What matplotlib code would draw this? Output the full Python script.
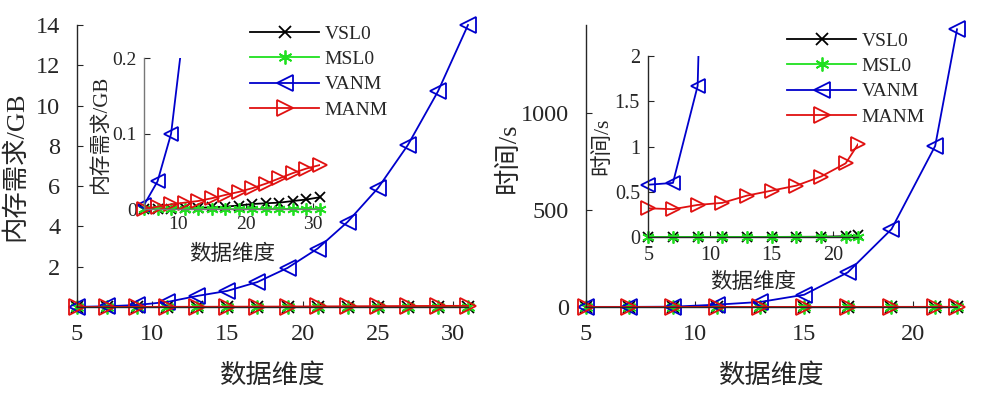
import numpy as np
import matplotlib
matplotlib.use("Agg")
import matplotlib.pyplot as plt

plt.rcParams['font.family'] = ['Liberation Serif', 'Noto Sans CJK SC']
plt.rcParams['axes.unicode_minus'] = False

# ---------------- data ----------------
labels = ["VSL0", "MSL0", "VANM", "MANM"]

# memory (GB) vs data dimension
dim_mem = np.array([5, 7, 9, 11, 13, 15, 17, 19, 21, 23, 25, 27, 29, 31])
mem_vsl0 = np.array([0.0002, 0.0005, 0.0009, 0.0013, 0.002, 0.0026, 0.0035, 0.005,
                     0.007, 0.008, 0.0088, 0.011, 0.013, 0.016])
mem_msl0 = np.array([0.0001, 0.0001, 0.0002, 0.0002, 0.0003, 0.0003, 0.0004, 0.0004,
                     0.0005, 0.0005, 0.0006, 0.0006, 0.0007, 0.0008])
mem_vanm = np.array([0.0057, 0.037, 0.100, 0.25, 0.55, 0.80, 1.24, 1.94,
                     2.90, 4.23, 5.89, 8.04, 10.7, 14.0])
mem_manm = np.array([0.0005, 0.0035, 0.0066, 0.0088, 0.011, 0.0146, 0.019, 0.023,
                     0.028, 0.034, 0.041, 0.048, 0.054, 0.0587])

# time (s) vs data dimension
dim_time = np.array([5, 7, 9, 11, 13, 15, 17, 19, 21, 22])
time_vsl0 = np.array([0.002, 0.002, 0.003, 0.003, 0.004, 0.004, 0.005, 0.006, 0.012, 0.02])
time_msl0 = np.array([0.0, 0.0, 0.0, 0.0, 0.0, 0.0, 0.0, 0.0, 0.0, 0.0])
time_vanm = np.array([0.58, 0.60, 1.67, 12, 26, 63, 178, 400, 828, 1428])
time_manm = np.array([0.32, 0.31, 0.357, 0.38, 0.46, 0.515, 0.57, 0.67, 0.816, 1.026])

colors = ['black', '#1FE01F', '#0000CC', '#E01010']
markers = ['x', (6, 2, 0), '<', '>']
msizes = [8, 10, 12, 12]

W, H = 981, 396
fig = plt.figure(figsize=(W / 100, H / 100), dpi=100)

TXT = '#262626'
cjk_serif = ['Liberation Serif', 'Noto Sans CJK SC']


def fr(x0, y0, x1, y1):
    # pixel box (left, top, right, bottom) -> figure fraction rect
    return [x0 / W, 1 - y1 / H, (x1 - x0) / W, (y1 - y0) / H]


def style(ax, fs, pad, spine_color=TXT):
    for s in ['top', 'right']:
        ax.spines[s].set_visible(False)
    for s in ['left', 'bottom']:
        ax.spines[s].set_color(spine_color)
        ax.spines[s].set_linewidth(1.0)
    ax.tick_params(direction='in', length=4, width=0.8, colors=TXT,
                   labelsize=fs, pad=pad)
    ax.patch.set_alpha(0)


def hollow(m):
    return m in ('<', '>')


def draw_main(ax, x, series, scale=1.0):
    handles = []
    for y, c, m, s, lab in zip(series, colors, markers, msizes, labels):
        mfc = 'none' if hollow(m) else c
        h, = ax.plot(x, y, color=c, marker=m, ms=s * scale, mfc=mfc, mec=c,
                     mew=1.3, lw=1.3, clip_on=False, label=lab)
        handles.append(h)
    return handles


def draw_inset(ax, x, series, ytop, scale=0.88):
    for y, c, m, s in zip(series, colors, markers, msizes):
        mfc = 'none' if hollow(m) else c
        ax.plot(x, y, color=c, lw=1.3, clip_on=True)
        keep = y <= ytop
        ax.plot(x[keep], y[keep], ls='none', marker=m, ms=s * scale, mfc=mfc,
                mec=c, mew=1.3, clip_on=False)


leg_kw = dict(frameon=False, fontsize=14, handlelength=3.55, handletextpad=0.3,
              labelspacing=0.4, borderpad=0, borderaxespad=0, labelcolor=TXT,
              loc='upper left')

# ---------------- left: memory ----------------
axL = fig.add_axes(fr(77, 25, 468, 307))
hL = draw_main(axL, dim_mem, [mem_vsl0, mem_msl0, mem_vanm, mem_manm])
axL.set_xlim(5, 31)
axL.set_ylim(0, 14)
axL.set_xticks([5, 10, 15, 20, 25, 30])
axL.set_yticks([2, 4, 6, 8, 10, 12, 14])
style(axL, 17.5, 12)
axL.set_xlabel('数据维度', fontsize=19, family=cjk_serif, color=TXT)
axL.xaxis.set_label_coords(0.5, -0.2)
axL.set_ylabel('内存需求/GB', fontsize=19, family=cjk_serif, color=TXT)
axL.yaxis.set_label_coords(-0.128, 0.5)
axL.legend(handles=hL, bbox_to_anchor=(250 / W, 1 - 25 / H),
           bbox_transform=fig.transFigure, **leg_kw)

insL = fig.add_axes(fr(144, 58.3, 320, 209.3))
draw_inset(insL, dim_mem, [mem_vsl0, mem_msl0, mem_vanm, mem_manm], 0.2)
insL.set_xlim(5, 31)
insL.set_ylim(0, 0.2)
insL.set_xticks([10, 20, 30])
insL.set_yticks([0, 0.1, 0.2])
insL.set_yticklabels(['0', '0.1', '0.2'])
style(insL, 14, 5, spine_color='#777777')
insL.set_xlabel('数据维度', fontsize=15.5, family=cjk_serif, color=TXT, labelpad=8)
insL.set_ylabel('内存需求/GB', fontsize=15, family=cjk_serif, color=TXT, labelpad=1)

# ---------------- right: time ----------------
axR = fig.add_axes(fr(585.7, 25, 957, 307))
hR = draw_main(axR, dim_time, [time_vsl0, time_msl0, time_vanm, time_manm])
axR.set_xlim(5, 22)
axR.set_ylim(0, 1450)
axR.set_xticks([5, 10, 15, 20])
axR.set_yticks([0, 500, 1000])
style(axR, 17.5, 12)
axR.set_xlabel('数据维度', fontsize=19, family=cjk_serif, color=TXT)
axR.xaxis.set_label_coords(0.5, -0.2)
axR.set_ylabel('时间/s', fontsize=19, family=cjk_serif, color=TXT)
axR.yaxis.set_label_coords(-0.178, 0.53)
axR.legend(handles=hR, bbox_to_anchor=(787 / W, 1 - 32 / H),
           bbox_transform=fig.transFigure, **leg_kw)

insR = fig.add_axes(fr(648.3, 56, 858, 237.3))
draw_inset(insR, dim_time, [time_vsl0, time_msl0, time_vanm, time_manm], 2.0)
insR.set_xlim(5, 22)
insR.set_ylim(0, 2)
insR.set_xticks([5, 10, 15, 20])
insR.set_yticks([0, 0.5, 1, 1.5, 2])
insR.set_yticklabels(['0', '0.5', '1', '1.5', '2'])
style(insR, 14.5, 6)
insR.set_xlabel('数据维度', fontsize=15.5, family=cjk_serif, color=TXT, labelpad=6)
insR.set_ylabel('时间/s', fontsize=15.5, family=cjk_serif, color=TXT, labelpad=2)

fig.savefig('out.png', dpi=100)
